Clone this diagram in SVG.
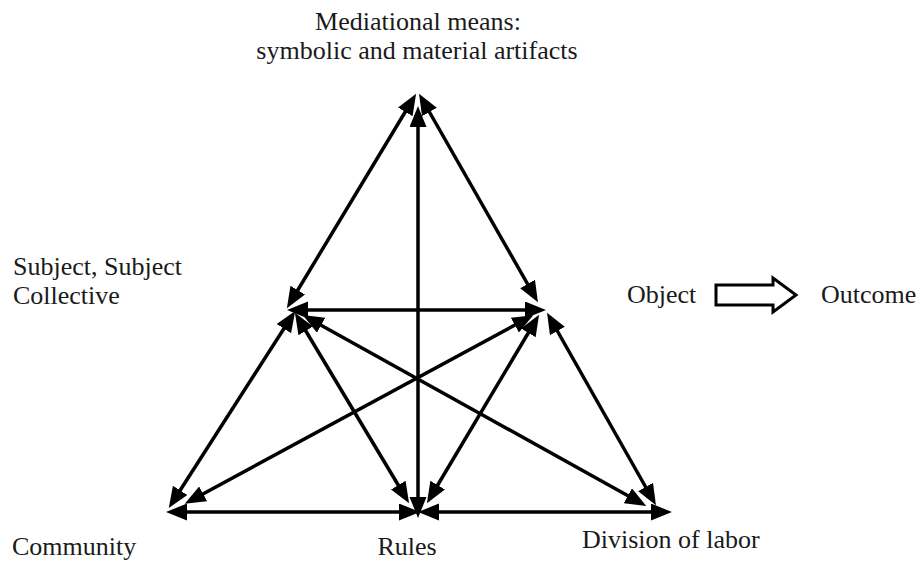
<svg xmlns="http://www.w3.org/2000/svg" width="920" height="562" viewBox="0 0 920 562">
  <style>
    .lbl { font-family: "Liberation Serif", "Times New Roman", serif; font-size: 26px; fill: #1a1a1a; }
    .edge { stroke: #000; stroke-width: 3.5; fill: none; marker-start: url(#ah); marker-end: url(#ah); }
  </style>
  <defs>
    <marker id="ah" markerUnits="userSpaceOnUse" markerWidth="22" markerHeight="18" refX="15" refY="8.5" orient="auto-start-reverse">
      <path d="M0,0 L21,8.5 L0,17 z" fill="#000"/>
    </marker>
  </defs>
  <rect width="920" height="562" fill="#fff"/>

  <g id="connectors">
    <line class="edge" x1="413" y1="99" x2="290" y2="303"/>
    <line class="edge" x1="422" y1="99" x2="535" y2="297"/>
    <line class="edge" x1="418" y1="112" x2="418" y2="512"/>
    <line class="edge" x1="293" y1="310" x2="540" y2="310"/>
    <line class="edge" x1="292" y1="316" x2="172" y2="503"/>
    <line class="edge" x1="298" y1="318" x2="406" y2="498"/>
    <line class="edge" x1="308" y1="318" x2="641" y2="503"/>
    <line class="edge" x1="528" y1="318" x2="190" y2="501"/>
    <line class="edge" x1="536" y1="320" x2="430" y2="498"/>
    <line class="edge" x1="550" y1="318" x2="653" y2="500"/>
    <line class="edge" x1="172" y1="512" x2="414" y2="512"/>
    <line class="edge" x1="424" y1="512" x2="666" y2="512"/>
  </g>

  <g id="mediational">
    <text class="lbl" x="418" y="30" text-anchor="middle">Mediational means:</text>
    <text class="lbl" x="417" y="59" text-anchor="middle">symbolic and material artifacts</text>
  </g>
  <g id="subject">
    <text class="lbl" x="13" y="275">Subject, Subject</text>
    <text class="lbl" x="13" y="304">Collective</text>
  </g>
  <g id="object">
    <text class="lbl" x="627" y="303">Object</text>
  </g>
  <g id="transform-arrow">
    <path d="M716,285 L773,285 L773,278 L796,295 L773,312 L773,305 L716,305 z" fill="#fff" stroke="#000" stroke-width="3"/>
  </g>
  <g id="outcome">
    <text class="lbl" x="821" y="303">Outcome</text>
  </g>
  <g id="community">
    <text class="lbl" x="12" y="555">Community</text>
  </g>
  <g id="rules">
    <text class="lbl" x="407" y="555" text-anchor="middle">Rules</text>
  </g>
  <g id="division">
    <text class="lbl" x="582" y="548">Division of labor</text>
  </g>
</svg>
